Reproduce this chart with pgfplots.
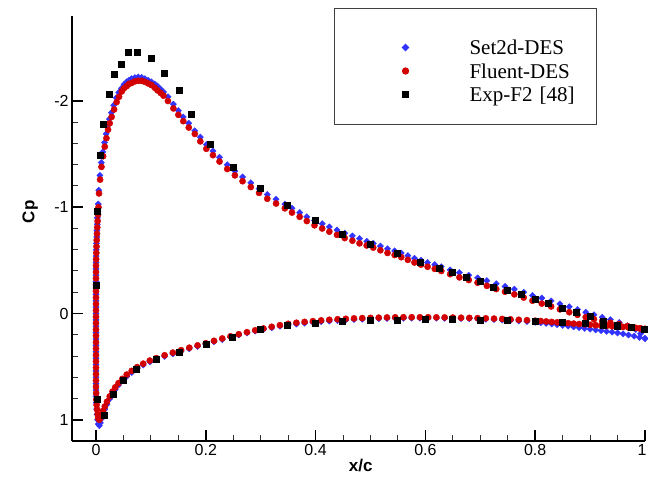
\documentclass[border=0pt]{standalone}
\usepackage{fontspec}
\setmainfont{Liberation Sans}
\newfontfamily\legfont{Liberation Serif}
\usepackage{pgfplots}
\pgfplotsset{compat=1.18}
\definecolor{setblue}{RGB}{51,51,255}
\definecolor{flred}{RGB}{210,0,0}
\definecolor{legframe}{RGB}{64,64,64}
\begin{document}
\begin{tikzpicture}[x=1bp,y=1bp]
\useasboundingbox (0,0) rectangle (648,479);
\begin{axis}[
  at={(72bp,38bp)}, anchor=south west,
  scale only axis, width=573bp, height=425bp,
  axis lines*=left,
  axis line style={line width=1.8bp},
  xmin=-0.0437, xmax=1, ymin=-2.8, ymax=1.2, y dir=reverse,
  xtick={0,0.2,0.4,0.6,0.8,1}, xticklabels={0,0.2,0.4,0.6,0.8,\makebox[3bp][r]{1}},
  ytick={-2,-1,0,1}, yticklabels={-2,-1,0,1},
  minor x tick num=3, minor y tick num=4,
  tick align=inside,
  major tick length=11bp, minor tick length=6bp,
  every major tick/.style={line width=1.5bp, black},
  every minor tick/.style={line width=1bp, black!80},
  ticklabel style={font=\fontsize{16bp}{19bp}\selectfont},
  /pgf/number format/assume math mode=true,
  xlabel={\bfseries x/c}, ylabel={\bfseries Cp},
  label style={font=\fontsize{17bp}{20bp}\selectfont},
  xlabel style={at={(axis description cs:0.504,-0.0565)}, anchor=center},
  ylabel style={at={(axis description cs:-0.073,0.539)}, anchor=center},
  clip=false,
  legend style={at={(axis description cs:0.4573,1.0188)}, anchor=north west,
    draw=legframe, line width=1bp, inner xsep=0pt, inner ysep=22.75bp,
    row sep=0pt, column sep=0pt,
    font=\fontsize{21bp}{24bp}\selectfont\legfont,
    nodes={inner sep=0pt, text height=14bp, text depth=0bp, text width=127bp}},
  legend cell align=left,
  legend image code/.code={\path[draw=none, fill=none] (-71bp,-7.25bp) rectangle (64bp,16.25bp);
     \draw[#1] plot coordinates {(0bp,0bp)};},
]
\addplot[only marks, mark=square*, mark size=2.2bp, mark options={rotate=45, setblue, draw=setblue, fill=setblue}] coordinates {
(1.000,0.235)(0.990,0.225)(0.980,0.213)(0.970,0.202)(0.960,0.192)(0.950,0.183)(0.940,0.175)(0.930,0.168)(0.920,0.161)(0.910,0.154)
(0.900,0.147)(0.890,0.140)(0.880,0.133)(0.870,0.126)(0.860,0.119)(0.850,0.112)(0.840,0.105)(0.830,0.099)(0.820,0.093)(0.810,0.087)
(0.800,0.082)(0.785,0.076)(0.770,0.070)(0.755,0.065)(0.740,0.061)(0.725,0.057)(0.710,0.054)(0.695,0.051)(0.680,0.049)(0.665,0.047)
(0.650,0.046)(0.635,0.045)(0.620,0.044)(0.605,0.044)(0.590,0.044)(0.575,0.044)(0.560,0.045)(0.545,0.046)(0.530,0.047)(0.515,0.049)
(0.500,0.051)(0.485,0.054)(0.470,0.057)(0.455,0.061)(0.440,0.066)(0.425,0.071)(0.410,0.077)(0.395,0.084)(0.380,0.091)(0.365,0.099)
(0.350,0.108)(0.335,0.120)(0.320,0.134)(0.305,0.150)(0.290,0.166)(0.275,0.184)(0.260,0.203)(0.245,0.223)(0.230,0.244)(0.215,0.266)
(0.200,0.289)(0.185,0.310)(0.170,0.332)(0.155,0.355)(0.140,0.379)(0.125,0.404)(0.110,0.431)(0.098,0.455)(0.086,0.485)(0.075,0.518)
(0.065,0.555)(0.056,0.592)(0.048,0.632)(0.041,0.673)(0.035,0.715)(0.030,0.757)(0.025,0.803)(0.020,0.855)(0.016,0.900)(0.013,0.945)
(0.010,0.990)(0.008,1.030)(0.006,1.055)(0.004,1.040)(0.003,1.000)(0.002,0.950)(0.0012,0.90)(0.0006,0.84)(0.0002,0.78)
(0,0.72)(0,0.66)(0,0.60)(0,0.54)(0,0.48)(0,0.42)(0,0.36)(0,0.30)(0,0.24)(0,0.18)(0,0.12)(0,0.06)(0,0.0)(0,-0.06)(0,-0.12)
(0,-0.18)(0,-0.24)(0,-0.30)(0,-0.36)(0,-0.42)(0,-0.48)(0.0002,-0.54)(0.0005,-0.60)(0.0008,-0.66)(0.0012,-0.72)(0.0016,-0.78)
(0.0021,-0.84)(0.0027,-0.90)(0.0034,-0.96)
(0.0042,-1.03)(0.0052,-1.16)(0.0072,-1.30)(0.0096,-1.42)(0.0125,-1.52)(0.0155,-1.61)(0.0185,-1.69)(0.0215,-1.77)(0.0245,-1.83)(0.028,-1.89)
(0.0325,-1.96)(0.037,-2.03)(0.0415,-2.08)(0.0465,-2.12)(0.051,-2.155)(0.056,-2.18)(0.060,-2.195)(0.065,-2.21)(0.071,-2.22)(0.077,-2.225)
(0.083,-2.222)(0.089,-2.21)(0.095,-2.195)(0.101,-2.18)(0.107,-2.16)(0.112,-2.14)(0.118,-2.11)(0.123,-2.085)(0.131,-2.04)(0.141,-1.97)
(0.150,-1.91)(0.159,-1.85)(0.169,-1.79)(0.180,-1.72)(0.190,-1.66)(0.201,-1.59)(0.213,-1.53)(0.225,-1.47)(0.239,-1.40)(0.253,-1.34)
(0.267,-1.285)(0.282,-1.23)(0.297,-1.175)(0.312,-1.12)(0.328,-1.075)(0.344,-1.03)(0.357,-0.99)(0.371,-0.95)(0.384,-0.91)(0.398,-0.875)
(0.412,-0.845)(0.425,-0.815)(0.439,-0.785)(0.453,-0.755)(0.467,-0.73)(0.480,-0.705)(0.493,-0.68)(0.505,-0.66)(0.518,-0.635)(0.531,-0.61)
(0.544,-0.59)(0.556,-0.57)(0.568,-0.545)(0.580,-0.52)(0.592,-0.50)(0.604,-0.48)(0.617,-0.46)(0.629,-0.44)(0.645,-0.41)(0.662,-0.385)
(0.679,-0.36)(0.695,-0.335)(0.712,-0.31)(0.729,-0.28)(0.745,-0.255)(0.762,-0.23)(0.779,-0.20)(0.795,-0.17)(0.812,-0.145)(0.829,-0.118)
(0.845,-0.09)(0.862,-0.063)(0.877,-0.038)(0.892,-0.012)(0.907,0.012)(0.922,0.035)(0.937,0.058)(0.953,0.085)(0.968,0.115)(0.983,0.15)
(0.992,0.19)(1.000,0.235)
};
\addlegendentry{Set2d-DES}
\addplot[only marks, mark=*, mark size=3.1bp, mark options={flred, draw=flred, fill=flred}] coordinates {
(1.000,0.145)(0.990,0.140)(0.980,0.136)(0.970,0.132)(0.960,0.127)(0.950,0.123)(0.940,0.120)(0.930,0.117)(0.920,0.114)(0.910,0.110)
(0.900,0.106)(0.890,0.102)(0.880,0.099)(0.870,0.095)(0.860,0.091)(0.850,0.087)(0.840,0.083)(0.830,0.079)(0.820,0.075)(0.810,0.071)
(0.800,0.068)(0.785,0.063)(0.770,0.059)(0.755,0.055)(0.740,0.051)(0.725,0.048)(0.710,0.045)(0.695,0.043)(0.680,0.041)(0.665,0.040)
(0.650,0.038)(0.635,0.037)(0.620,0.036)(0.605,0.035)(0.590,0.035)(0.575,0.035)(0.560,0.035)(0.545,0.036)(0.530,0.037)(0.515,0.039)
(0.500,0.041)(0.485,0.043)(0.470,0.046)(0.455,0.050)(0.440,0.054)(0.425,0.059)(0.410,0.065)(0.395,0.072)(0.380,0.079)(0.365,0.087)
(0.350,0.097)(0.335,0.110)(0.320,0.125)(0.305,0.141)(0.290,0.158)(0.275,0.176)(0.260,0.195)(0.245,0.215)(0.230,0.235)(0.215,0.257)
(0.200,0.280)(0.185,0.300)(0.170,0.322)(0.155,0.345)(0.140,0.368)(0.125,0.393)(0.110,0.420)(0.098,0.443)(0.086,0.472)(0.075,0.505)
(0.065,0.540)(0.056,0.575)(0.048,0.615)(0.041,0.655)(0.035,0.695)(0.030,0.735)(0.025,0.780)(0.020,0.830)(0.016,0.875)(0.013,0.915)
(0.010,0.955)(0.008,0.985)(0.006,1.000)(0.004,0.985)(0.003,0.950)(0.002,0.905)(0.0012,0.86)(0.0006,0.81)(0.0003,0.75)
(0,0.69)(0,0.63)(0,0.57)(0,0.51)(0,0.45)(0,0.39)(0,0.33)(0,0.27)(0,0.21)(0,0.15)(0,0.09)(0,0.03)(0,-0.03)(0,-0.09)(0,-0.15)
(0,-0.21)(0,-0.27)(0,-0.33)(0,-0.39)(0,-0.45)(0.0003,-0.51)(0.0006,-0.57)(0.0009,-0.63)(0.0013,-0.69)(0.0018,-0.75)(0.0023,-0.81)
(0.0029,-0.87)(0.0036,-0.93)
(0.0045,-1.00)(0.0055,-1.13)(0.0075,-1.26)(0.010,-1.38)(0.013,-1.48)(0.016,-1.57)(0.019,-1.65)(0.022,-1.73)(0.025,-1.79)(0.0285,-1.85)
(0.033,-1.92)(0.0376,-1.99)(0.042,-2.04)(0.047,-2.09)(0.051,-2.12)(0.056,-2.14)(0.060,-2.16)(0.065,-2.17)(0.071,-2.185)(0.077,-2.19)
(0.083,-2.19)(0.089,-2.18)(0.095,-2.165)(0.101,-2.15)(0.107,-2.125)(0.112,-2.10)(0.118,-2.075)(0.123,-2.05)(0.131,-2.00)(0.141,-1.93)
(0.150,-1.87)(0.159,-1.81)(0.169,-1.75)(0.180,-1.69)(0.190,-1.62)(0.201,-1.55)(0.213,-1.49)(0.225,-1.43)(0.239,-1.36)(0.253,-1.30)
(0.267,-1.245)(0.282,-1.19)(0.297,-1.135)(0.312,-1.08)(0.328,-1.035)(0.344,-0.99)(0.357,-0.95)(0.371,-0.91)(0.384,-0.87)(0.398,-0.83)
(0.412,-0.80)(0.425,-0.77)(0.439,-0.74)(0.453,-0.71)(0.467,-0.685)(0.480,-0.66)(0.493,-0.64)(0.505,-0.62)(0.518,-0.595)(0.531,-0.57)
(0.544,-0.55)(0.556,-0.53)(0.568,-0.505)(0.580,-0.48)(0.592,-0.46)(0.604,-0.44)(0.617,-0.42)(0.629,-0.40)(0.645,-0.37)(0.662,-0.34)
(0.679,-0.315)(0.695,-0.29)(0.712,-0.26)(0.729,-0.23)(0.745,-0.205)(0.762,-0.18)(0.779,-0.15)(0.795,-0.12)(0.812,-0.093)(0.829,-0.066)
(0.845,-0.039)(0.862,-0.012)(0.877,0.012)(0.892,0.035)(0.907,0.054)(0.922,0.072)(0.937,0.087)(0.953,0.10)(0.968,0.118)(0.983,0.135)
(0.992,0.14)(1.000,0.145)
};
\addlegendentry{Fluent-DES}
\addplot[only marks, mark=square*, mark size=3bp, mark options={black, fill=black}] coordinates {
(0.000,-0.27)(0.002,-0.96)(0.007,-1.49)(0.013,-1.78)(0.024,-2.06)(0.033,-2.25)(0.045,-2.35)(0.058,-2.46)(0.075,-2.46)(0.100,-2.40)
(0.125,-2.26)(0.151,-2.10)(0.174,-1.88)(0.208,-1.59)(0.249,-1.38)(0.299,-1.18)(0.349,-1.02)(0.399,-0.88)(0.449,-0.75)(0.499,-0.65)
(0.549,-0.57)(0.590,-0.48)(0.625,-0.43)(0.649,-0.39)(0.674,-0.34)(0.700,-0.30)(0.724,-0.25)(0.749,-0.22)(0.775,-0.18)(0.800,-0.135)
(0.824,-0.10)(0.849,-0.05)(0.875,-0.01)(0.900,0.025)(0.924,0.07)(0.949,0.11)(0.975,0.13)(0.998,0.15)
(0.003,0.81)(0.015,0.96)(0.031,0.76)(0.050,0.63)(0.074,0.52)(0.109,0.43)(0.151,0.36)(0.200,0.29)(0.248,0.22)(0.299,0.15)
(0.349,0.113)(0.399,0.09)(0.449,0.075)(0.499,0.065)(0.549,0.06)(0.600,0.057)(0.649,0.057)(0.700,0.066)(0.749,0.066)(0.800,0.072)
(0.849,0.085)(0.891,0.094)(0.924,0.113)(0.949,0.116)
};
\addlegendentry{Exp-F2 [48]}
\end{axis}
\end{tikzpicture}
\end{document}
